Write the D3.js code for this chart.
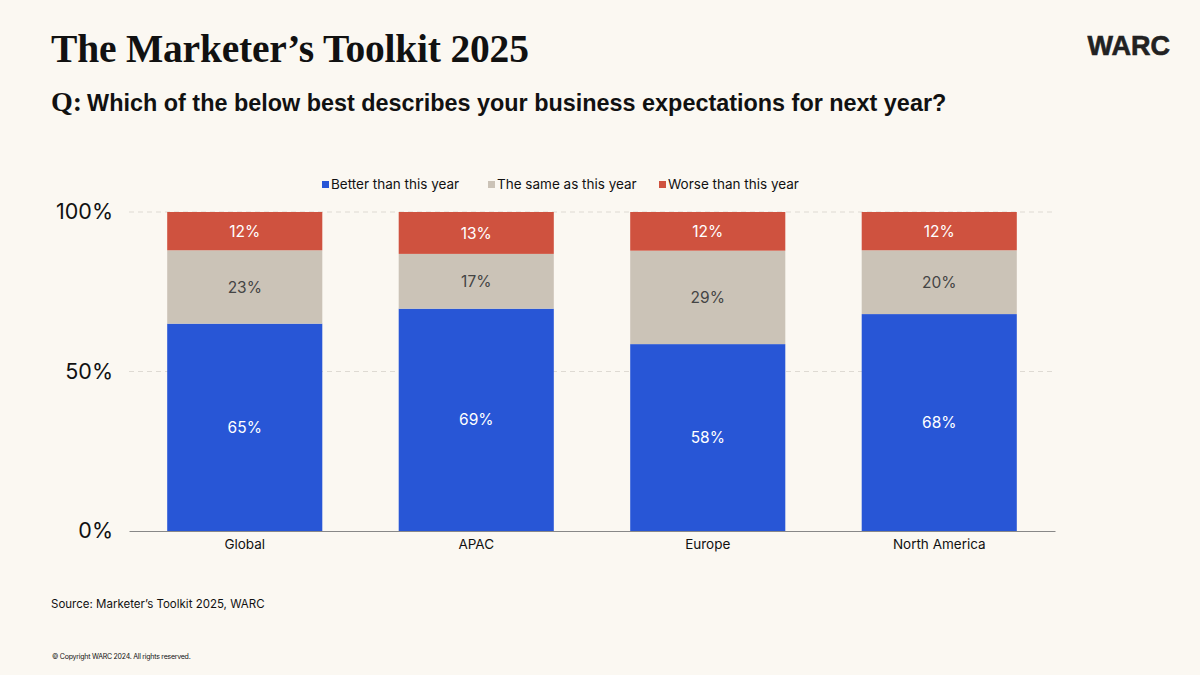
<!DOCTYPE html>
<html>
<head>
<meta charset="utf-8">
<script src="https://cdn.jsdelivr.net/npm/d3@7"></script>
<style>
  body { margin: 0; background: #fbf8f2; }
  svg { display: block; }
</style>
</head>
<body>
<div id="vis"></div>
<script>
// chart data
var regions = ["Global", "APAC", "Europe", "North America"];
var seriesNames = ["Better than this year", "The same as this year", "Worse than this year"];
var better = [65, 69, 58, 68];
var same = [23, 17, 29, 20];
var worse = [12, 13, 12, 12];
var yTicks = [0, 0.5, 1];

var colors = ["#2856d6", "#cbc3b7", "#cf523f"];
var labelColors = ["#ffffff", "#444444", "#ffffff"];

var width = 1200, height = 675;
var margin = {top: 212, right: 145, bottom: 144, left: 129};

var svg = d3.select("#vis")
  .append("svg")
  .attr("width", width)
  .attr("height", height);

svg.append("rect").attr("width", width).attr("height", height).attr("fill", "#fbf8f2");

// header text
svg.append("text")
  .attr("x", 51).attr("y", 62)
  .attr("font-family", "'Liberation Serif', 'DejaVu Serif', serif")
  .attr("font-weight", "bold")
  .attr("font-size", 39.5)
  .attr("letter-spacing", -0.2)
  .attr("fill", "#111")
  .text("The Marketer\u2019s Toolkit 2025");

var sub = svg.append("text")
  .attr("x", 51).attr("y", 111)
  .attr("fill", "#111")
  .attr("font-weight", "bold");
sub.append("tspan")
  .attr("font-family", "'Liberation Serif', serif")
  .attr("font-size", 28)
  .text("Q:");
sub.append("tspan")
  .attr("font-family", "'Liberation Sans', Arial, sans-serif")
  .attr("font-size", 23.4)
  .attr("dx", 5)
  .text("Which of the below best describes your business expectations for next year?");

svg.append("text")
  .attr("x", 1170).attr("y", 55)
  .attr("text-anchor", "end")
  .attr("font-family", "'Liberation Sans', Arial, sans-serif")
  .attr("font-weight", "bold")
  .attr("font-size", 27)
  .attr("stroke", "#222")
  .attr("stroke-width", 0.6)
  .attr("fill", "#222")
  .text("WARC");

// scales
var x = d3.scaleBand()
  .domain(regions)
  .range([margin.left, width - margin.right])
  .paddingInner(0.33)
  .paddingOuter(0.165);

var y = d3.scaleLinear()
  .domain([0, 1])
  .range([height - margin.bottom, margin.top]);

// stacked data
var rows = regions.map(function(r, i) {
  var o = {region: r};
  o[seriesNames[0]] = better[i];
  o[seriesNames[1]] = same[i];
  o[seriesNames[2]] = worse[i];
  return o;
});

var stack = d3.stack()
  .keys(seriesNames)
  .offset(d3.stackOffsetExpand);
var layers = stack(rows);

// gridlines
svg.append("g")
  .selectAll("line")
  .data(yTicks.filter(function(d) { return d > 0; }))
  .enter()
  .append("line")
  .attr("x1", margin.left)
  .attr("x2", width - margin.right)
  .attr("y1", function(d) { return y(d); })
  .attr("y2", function(d) { return y(d); })
  .attr("stroke", "#dedad3")
  .attr("stroke-width", 1)
  .attr("stroke-dasharray", "5,4");

// y axis labels
var yAxis = d3.axisLeft(y)
  .tickValues(yTicks)
  .tickFormat(d3.format(".0%"))
  .tickSize(0)
  .tickPadding(0);

var yg = svg.append("g")
  .attr("transform", "translate(113,0)")
  .call(yAxis);
yg.select(".domain").remove();
yg.selectAll("text")
  .attr("font-family", "Inter, 'Liberation Sans', sans-serif")
  .attr("font-size", 21.5)
  .attr("fill", "#111")
  .attr("dy", "0.32em");

// bars
var g = svg.append("g");
layers.forEach(function(layer, li) {
  g.append("g")
    .selectAll("rect")
    .data(layer)
    .enter()
    .append("rect")
    .attr("x", function(d) { return x(d.data.region); })
    .attr("width", x.bandwidth())
    .attr("y", function(d) { return y(d[1]); })
    .attr("height", function(d) { return y(d[0]) - y(d[1]); })
    .attr("fill", colors[li]);

  g.append("g")
    .selectAll("text")
    .data(layer)
    .enter()
    .append("text")
    .attr("x", function(d) { return x(d.data.region) + x.bandwidth() / 2; })
    .attr("y", function(d) { return (y(d[0]) + y(d[1])) / 2; })
    .attr("dy", "0.36em")
    .attr("text-anchor", "middle")
    .attr("font-family", "Inter, 'Liberation Sans', sans-serif")
    .attr("font-size", 15.5)
    .attr("fill", labelColors[li])
    .text(function(d) { return d.data[layer.key] + "%"; });
});

// x axis
var xAxis = d3.axisBottom(x).tickSize(0).tickPadding(8);
var xg = svg.append("g")
  .attr("transform", "translate(0," + (height - margin.bottom) + ")")
  .call(xAxis);
xg.select(".domain").attr("stroke", "#888").attr("stroke-width", 1);
xg.selectAll("text")
  .attr("font-family", "Inter, 'Liberation Sans', sans-serif")
  .attr("font-size", 13.5)
  .attr("fill", "#111");

// legend
var legendX = [322, 488, 659];
var legend = svg.append("g")
  .selectAll("g")
  .data(seriesNames)
  .enter()
  .append("g")
  .attr("transform", function(d, i) { return "translate(" + legendX[i] + ",184)"; });
legend.append("rect")
  .attr("x", 0).attr("y", -3)
  .attr("width", 7).attr("height", 7)
  .attr("fill", function(d, i) { return colors[i]; });
legend.append("text")
  .attr("x", 9)
  .attr("dy", "0.35em")
  .attr("font-family", "Inter, 'Liberation Sans', sans-serif")
  .attr("font-size", 13.5)
  .attr("fill", "#111")
  .text(function(d) { return d; });

// footer
svg.append("text")
  .attr("x", 51).attr("y", 608)
  .attr("font-family", "Inter, 'Liberation Sans', sans-serif")
  .attr("font-size", 11.5)
  .attr("fill", "#111")
  .text("Source: Marketer\u2019s Toolkit 2025, WARC");

svg.append("text")
  .attr("x", 52).attr("y", 659)
  .attr("font-family", "Inter, 'Liberation Sans', sans-serif")
  .attr("font-size", 7)
  .attr("letter-spacing", -0.25)
  .attr("fill", "#111")
  .text("\u00a9 Copyright WARC 2024. All rights reserved.");
</script>
</body>
</html>
